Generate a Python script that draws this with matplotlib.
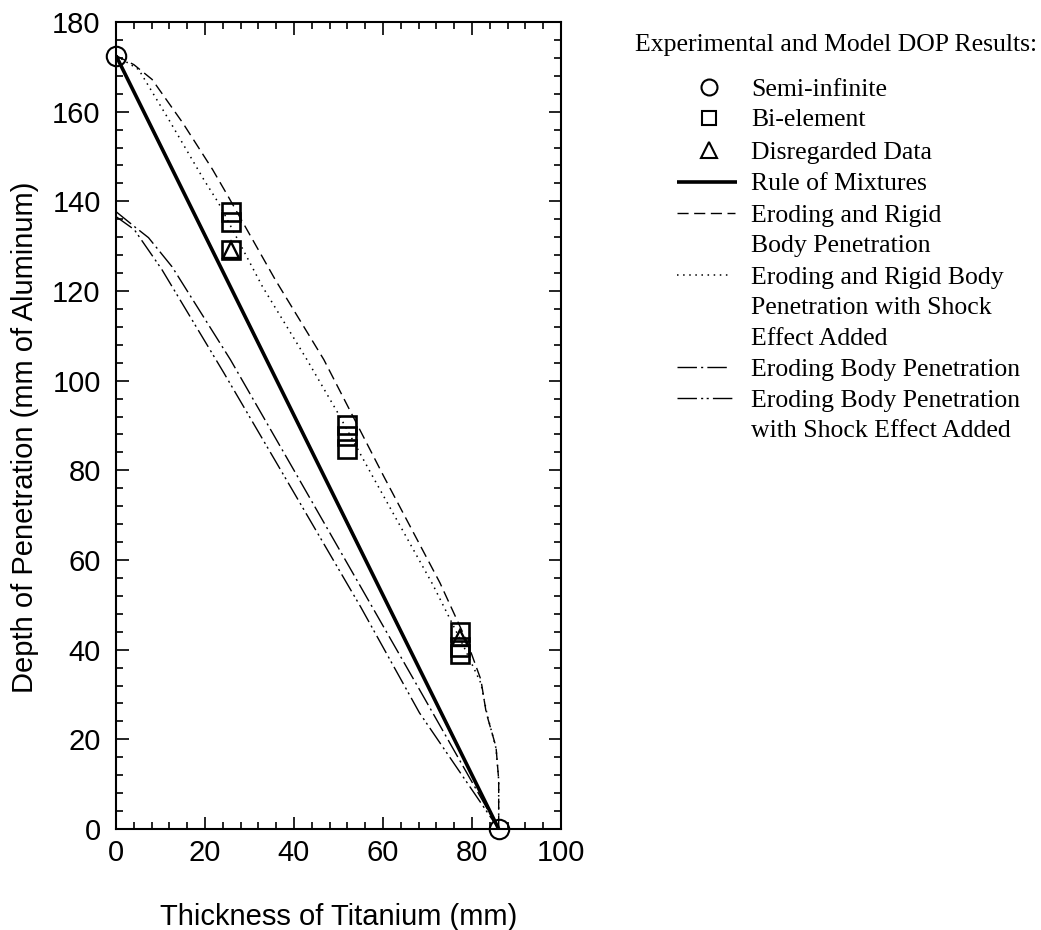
import matplotlib
matplotlib.use("Agg")
import matplotlib.pyplot as plt
from matplotlib.ticker import MultipleLocator

# ---------------- data ----------------
semi_x = [0.0, 86.0]
semi_y = [172.5, 0.0]

bi_x = [25.9, 25.9, 25.9, 52.0, 52.0, 52.0, 77.2, 77.2, 77.2]
bi_y = [137.7, 135.5, 129.2, 90.2, 87.7, 84.8, 44.0, 40.5, 39.0]

dis_x = [25.9, 77.2]
dis_y = [129.2, 42.5]

rom_x = [0.0, 86.0]
rom_y = [172.5, 0.0]

erb_x = [0.0, 4.0, 8.1, 15.0, 21.7, 25.2, 35.8, 46.7, 60.2, 72.8, 79.0, 82.0, 83.2, 85.4, 86.0, 86.0]
erb_y = [172.5, 170.5, 167.2, 157.5, 147.1, 141.1, 122.5, 104.7, 78.6, 54.9, 41.5, 33.3, 25.9, 18.3, 10.9, 0.0]

erbs_x = [0.0, 5.1, 12.0, 19.7, 23.0, 32.9, 42.9, 49.8, 57.7, 71.2, 78.0, 82.0, 83.4, 85.4, 86.0, 86.0]
erbs_y = [172.5, 169.4, 158.0, 144.9, 139.7, 121.0, 104.7, 92.9, 78.6, 54.5, 41.0, 32.5, 25.5, 18.0, 10.9, 0.0]

eb_x = [0.0, 4.1, 7.3, 12.6, 25.7, 40.0, 55.0, 68.6, 86.0]
eb_y = [137.7, 134.4, 131.9, 125.4, 104.7, 80.0, 54.0, 30.4, 0.0]

ebs_x = [0.0, 4.1, 10.3, 24.2, 40.0, 55.0, 68.2, 86.0]
ebs_y = [136.6, 133.7, 124.8, 101.8, 75.0, 49.5, 25.9, 0.0]

x_ticks = [0, 20, 40, 60, 80, 100]
y_ticks = [0, 20, 40, 60, 80, 100, 120, 140, 160, 180]

legend_title = "Experimental and Model DOP Results:"
legend_labels = ["Semi-infinite", "Bi-element", "Disregarded Data", "Rule of Mixtures",
                 "Eroding and Rigid\nBody Penetration",
                 "Eroding and Rigid Body\nPenetration with Shock\nEffect Added",
                 "Eroding Body Penetration",
                 "Eroding Body Penetration\nwith Shock Effect Added"]

# ---------------- styles ----------------
DASH = (0, (8, 4))
DOT = (0, (1, 3))
DASHDOT = (0, (14, 3, 1.5, 3))
DASHDOTDOT = (0, (14, 3, 1.5, 2.5, 1.5, 3))
SANS = ["Liberation Sans", "DejaVu Sans"]
SERIF = ["Liberation Serif", "DejaVu Serif"]

W, H = 1041, 930
fig = plt.figure(figsize=(W / 100, H / 100), dpi=100)
L, R, B, T = 116, 561, 829, 22
ax = fig.add_axes([L / W, (H - B) / H, (R - L) / W, (B - T) / H])

ax.plot(rom_x, rom_y, color="black", lw=2.6, solid_capstyle="butt", zorder=3)
ax.plot(erb_x, erb_y, color="black", lw=1.0, linestyle=DASH, zorder=3)
ax.plot(erbs_x, erbs_y, color="black", lw=1.1, linestyle=DOT, zorder=3)
ax.plot(eb_x, eb_y, color="black", lw=1.0, linestyle=DASHDOT, zorder=3)
ax.plot(ebs_x, ebs_y, color="black", lw=1.0, linestyle=DASHDOTDOT, zorder=3)

ax.plot(semi_x, semi_y, linestyle="none", marker="o", markersize=14, mfc="none",
        mec="black", mew=1.5, zorder=4, clip_on=False)
ax.plot(bi_x, bi_y, linestyle="none", marker="s", markersize=13, mfc="none",
        mec="black", mew=1.9, zorder=4)
ax.plot(dis_x, dis_y, linestyle="none", marker="^", markersize=12, mfc="none",
        mec="black", mew=1.7, zorder=4)

ax.set_xlim(0, 100)
ax.set_ylim(0, 180)
ax.set_xticks(x_ticks)
ax.set_yticks(y_ticks)
ax.xaxis.set_minor_locator(MultipleLocator(4))
ax.yaxis.set_minor_locator(MultipleLocator(4))
ax.tick_params(which="both", direction="in", top=True, right=True, width=1.2,
               labelsize=21)
ax.tick_params(axis="x", which="major", pad=7)
ax.tick_params(axis="y", which="major", pad=11)
ax.tick_params(which="major", length=9)
ax.tick_params(which="minor", length=5)
for lab in ax.get_xticklabels() + ax.get_yticklabels():
    lab.set_family(SANS)
for sp in ax.spines.values():
    sp.set_linewidth(1.5)

ax.set_xlabel("Thickness of Titanium (mm)", fontsize=21, family=SANS, labelpad=26)
ax.set_ylabel("Depth of Penetration (mm of Aluminum)", fontsize=21, family=SANS)
ax.yaxis.set_label_coords(-0.172, 0.485)

# ---------------- legend (pixel coordinates) ----------------
lg = fig.add_axes([0, 0, 1, 1], zorder=-1)
lg.set_xlim(0, W)
lg.set_ylim(H, 0)
lg.axis("off")
FS = 18.5
BASE = 8.5  # baseline offset below the visual centre of a text line (px)
lg.text(635, 43 + BASE, legend_title, fontsize=FS, family=SERIF, va="baseline", ha="left")

entry_y = [87, 118, 150, 182, 213, 275, 367, 398]
line_step = 30.5
hx0, mx, tx = 677, 709, 751
handles = [
    dict(marker="o", ms=11.5),
    dict(marker="s", ms=10),
    dict(marker="^", ms=11),
    dict(ls="-", lw=2.6, x1=737),
    dict(ls=DASH, lw=1.0, x1=735),
    dict(ls=DOT, lw=1.1, x1=731),
    dict(ls=DASHDOT, lw=1.0, x1=730),
    dict(ls=DASHDOTDOT, lw=1.0, x1=734),
]
for y, h, lab in zip(entry_y, handles, legend_labels):
    if "marker" in h:
        lg.plot([mx], [y], marker=h["marker"], markersize=h["ms"], mfc="none",
                mec="black", mew=1.5, linestyle="none")
    else:
        lg.plot([hx0, h["x1"]], [y, y], color="black", linestyle=h["ls"], lw=h["lw"],
                solid_capstyle="butt")
    for i, line in enumerate(lab.split("\n")):
        lg.text(tx, y + i * line_step + BASE, line, fontsize=FS, family=SERIF,
                va="baseline", ha="left")

fig.savefig("out.png", dpi=100)
